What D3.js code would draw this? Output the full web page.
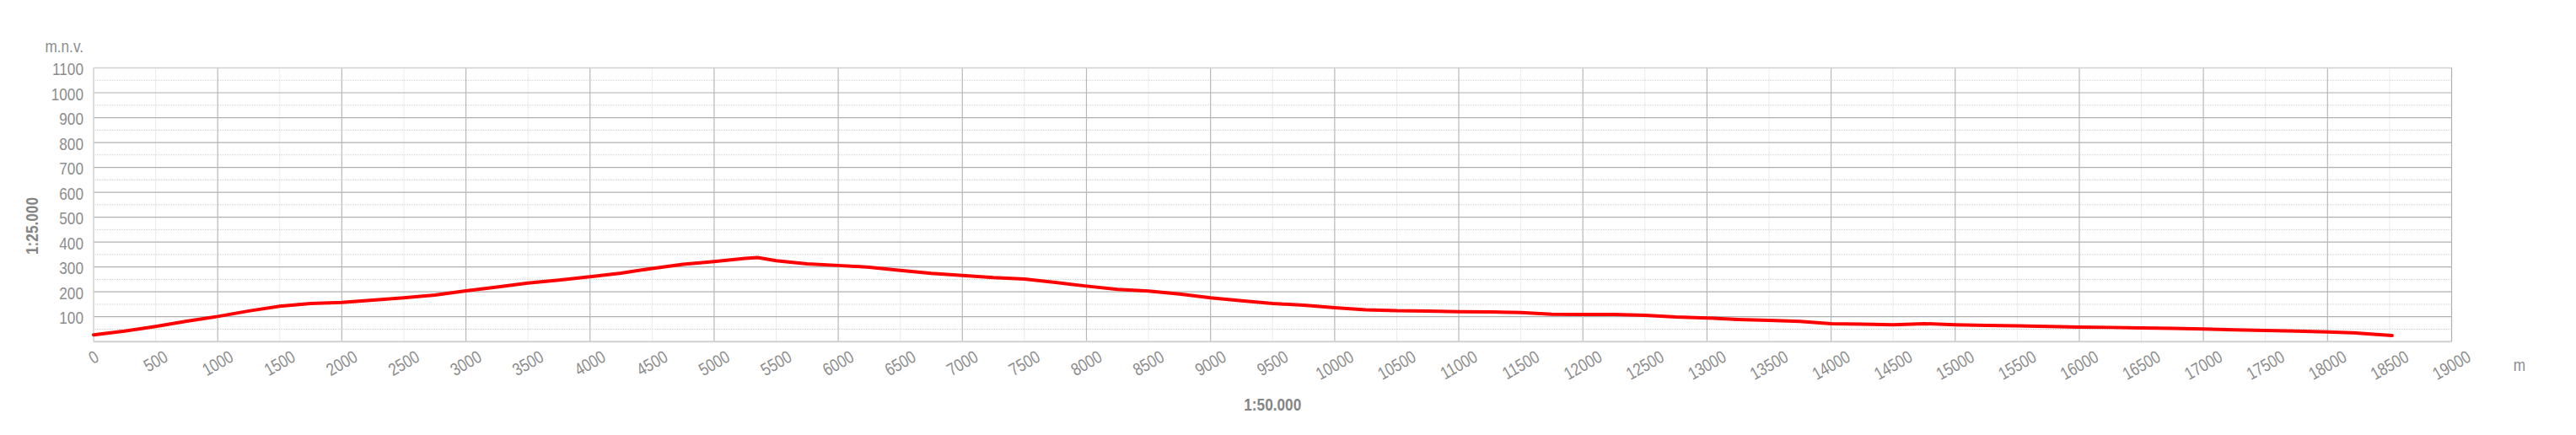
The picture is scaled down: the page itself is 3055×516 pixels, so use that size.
<!DOCTYPE html>
<html>
<head>
<meta charset="utf-8">
<script src="https://cdn.jsdelivr.net/npm/d3@7"></script>
<style>
  html, body { margin: 0; padding: 0; background: #ffffff; }
  svg { display: block; }
  text { font-family: "Liberation Sans", Arial, sans-serif; }
</style>
</head>
<body>
<svg id="chart" width="3055" height="516"></svg>
<script>
// ---- data ----
const distances = [0,250,500,750,1000,1250,1500,1750,2000,2250,2500,2750,3000,3250,3500,3750,4000,4250,4500,4750,5000,5250,5350,5500,5750,6000,6250,6500,6750,7000,7250,7500,7750,8000,8250,8500,8750,9000,9250,9500,9750,10000,10250,10500,10750,11000,11250,11500,11750,12000,12250,12500,12750,13000,13250,13500,13750,14000,14250,14500,14750,15000,15250,15500,15750,16000,16250,16500,16750,17000,17250,17500,17750,18000,18250,18520];
const elevations = [27,42,61,82,101,123,142,153,157,167,176,187,204,219,235,247,261,275,294,311,322,334,338,325,312,306,299,286,274,266,257,251,238,223,210,203,191,176,164,153,146,136,128,124,123,120,119,117,110,109,109,106,99,95,89,85,81,72,70,68,72,68,65,63,61,58,57,55,53,51,47,45,42,39,34,24];
const xTicks = [0,500,1000,1500,2000,2500,3000,3500,4000,4500,5000,5500,6000,6500,7000,7500,8000,8500,9000,9500,10000,10500,11000,11500,12000,12500,13000,13500,14000,14500,15000,15500,16000,16500,17000,17500,18000,18500,19000];
const yTicks = [100,200,300,400,500,600,700,800,900,1000,1100];
const yMinor = [50,150,250,350,450,550,650,750,850,950,1050];
const xMajor = [1000,2000,3000,4000,5000,6000,7000,8000,9000,10000,11000,12000,13000,14000,15000,16000,17000,18000];
const xMinor = [500,1500,2500,3500,4500,5500,6500,7500,8500,9500,10500,11500,12500,13500,14500,15500,16500,17500,18500];
const yUnit = "m.n.v.";
const xUnit = "m";
const yScaleLabel = "1:25.000";
const xScaleLabel = "1:50.000";

// ---- layout ----
const pL = 111, pR = 2907.5, pT = 80.5, pB = 405.2;
const NARROW = 0.82;
const svg = d3.select("#chart");
const x = d3.scaleLinear().domain([0, 19000]).range([pL, pR]);
const y = d3.scaleLinear().domain([0, 1100]).range([pB, pT]);
const textColor = "#8c8c8c";

// minor dotted grid
svg.append("g").selectAll("line").data(yMinor).join("line")
  .attr("x1", pL).attr("x2", pR)
  .attr("y1", d => y(d)).attr("y2", d => y(d))
  .attr("stroke", "#cfcfcf").attr("stroke-width", 1).attr("stroke-dasharray", "1,1");
svg.append("g").selectAll("line").data(xMinor).join("line")
  .attr("y1", pT).attr("y2", pB)
  .attr("x1", d => x(d)).attr("x2", d => x(d))
  .attr("stroke", "#d6d6d6").attr("stroke-width", 1).attr("stroke-dasharray", "1,1");

// major grid
svg.append("g").selectAll("line").data(yTicks.filter(d => d < 1100)).join("line")
  .attr("x1", pL).attr("x2", pR)
  .attr("y1", d => y(d)).attr("y2", d => y(d))
  .attr("stroke", "#b0b0b0").attr("stroke-width", 1.2);
svg.append("g").selectAll("line").data(xMajor).join("line")
  .attr("y1", pT).attr("y2", pB)
  .attr("x1", d => x(d)).attr("x2", d => x(d))
  .attr("stroke", "#b8b8b8").attr("stroke-width", 1.2);

// plot border
svg.append("line").attr("x1", pL).attr("x2", pR).attr("y1", pT).attr("y2", pT)
  .attr("stroke", "#d0d0d0").attr("stroke-width", 1.5);
svg.append("line").attr("x1", pL).attr("x2", pR).attr("y1", pB).attr("y2", pB)
  .attr("stroke", "#d0d0d0").attr("stroke-width", 2);
svg.append("line").attr("x1", pL).attr("x2", pL).attr("y1", pT).attr("y2", pB)
  .attr("stroke", "#d0d0d0").attr("stroke-width", 1.5);
svg.append("line").attr("x1", pR).attr("x2", pR).attr("y1", pT).attr("y2", pB)
  .attr("stroke", "#b0b0b0").attr("stroke-width", 1.2);

// y tick labels
svg.append("g").selectAll("text").data(yTicks).join("text")
  .attr("text-anchor", "end")
  .attr("transform", d => `translate(99,${y(d) + 8.5}) scale(${NARROW},1)`)
  .attr("font-size", 21).attr("fill", textColor)
  .text(d => d);

// x tick labels (rotated)
const xl = svg.append("g").selectAll("text").data(xTicks).join("text")
  .attr("text-anchor", "middle")
  .attr("dominant-baseline", "central")
  .attr("font-size", 21).attr("fill", textColor)
  .text(d => d);
xl.each(function(d) {
  const w = this.getComputedTextLength() * NARROW;
  const cy = 416 + (w * 0.5 + 12 * 0.866) / 2;
  d3.select(this).attr("transform", `translate(${x(d)},${cy}) rotate(-30) scale(${NARROW},1)`);
});

// units
svg.append("text").attr("transform", `translate(99,62) scale(${NARROW},1)`).attr("text-anchor", "end")
  .attr("font-size", 21).attr("fill", textColor).text(yUnit);
svg.append("text").attr("transform", `translate(2988,440) scale(${NARROW},1)`).attr("text-anchor", "middle")
  .attr("font-size", 21).attr("fill", textColor).text(xUnit);

// scale labels
svg.append("text").attr("transform", `translate(45,268) rotate(-90) scale(${NARROW},1)`)
  .attr("text-anchor", "middle").attr("font-size", 21).attr("font-weight", "bold")
  .attr("fill", "#858585").text(yScaleLabel);
svg.append("text").attr("transform", `translate(${(pL + pR) / 2},487) scale(${NARROW},1)`)
  .attr("text-anchor", "middle").attr("font-size", 21).attr("font-weight", "bold")
  .attr("fill", "#858585").text(xScaleLabel);

// profile line
const pts = distances.map((d, i) => [d, elevations[i]]);
svg.append("path").datum(pts)
  .attr("fill", "none").attr("stroke", "#ff0000").attr("stroke-width", 4)
  .attr("stroke-linejoin", "round").attr("stroke-linecap", "round")
  .attr("d", d3.line().x(d => x(d[0])).y(d => y(d[1])));
</script>
</body>
</html>
